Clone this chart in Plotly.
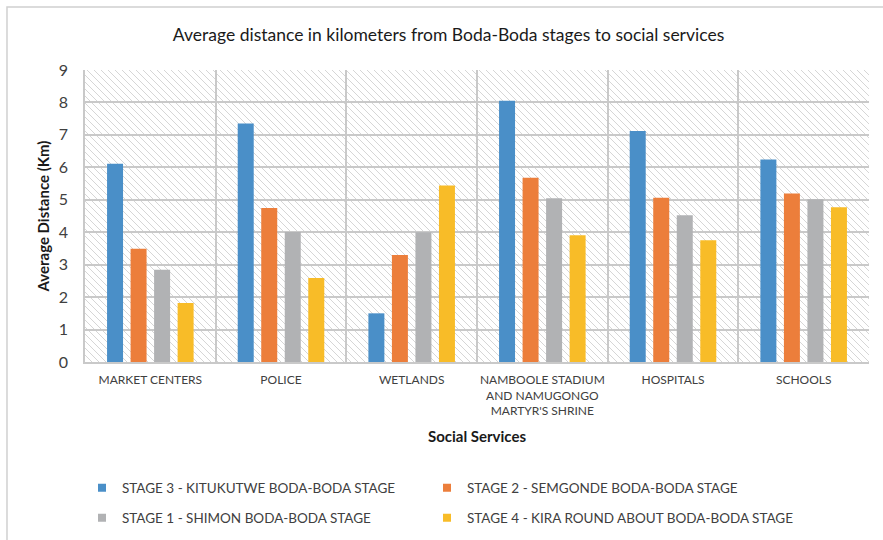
import plotly.graph_objects as go

# Social service categories (x axis)
services = [
    "MARKET CENTERS",
    "POLICE",
    "WETLANDS",
    "NAMBOOLE STADIUM<br>AND NAMUGONGO<br>MARTYR'S SHRINE",
    "HOSPITALS",
    "SCHOOLS",
]

# Average distance (km) from each Boda-Boda stage to the services
stage3_kitukutwe = [6.11, 7.35, 1.50, 8.05, 7.12, 6.24]
stage2_semgonde = [3.49, 4.75, 3.30, 5.68, 5.06, 5.19]
stage1_shimon = [2.84, 4.01, 4.00, 5.05, 4.52, 5.02]
stage4_kira = [1.82, 2.59, 5.44, 3.91, 3.75, 4.77]

series_names = [
    "STAGE 3 - KITUKUTWE BODA-BODA STAGE",
    "STAGE 2 - SEMGONDE BODA-BODA STAGE",
    "STAGE 1 - SHIMON BODA-BODA STAGE",
    "STAGE 4 - KIRA ROUND ABOUT BODA-BODA STAGE",
]
series_values = [stage3_kitukutwe, stage2_semgonde, stage1_shimon, stage4_kira]
series_colors = ["#4A8FC8", "#EC7E3B", "#B1B2B4", "#F8BC28"]
series_legend = ["legend", "legend2", "legend3", "legend4"]

y_ticks = list(range(0, 10))

FONT = "Lato, 'Open Sans', sans-serif"
TEXT = "#404040"
GRID = "#C9C9C9"

W, H = 883, 540
M_L, M_R, M_T, M_B = 85, 14, 70, 178
PW, PH = W - M_L - M_R, H - M_T - M_B

fig = go.Figure()

for name, vals, col in zip(series_names, series_values, series_colors):
    fig.add_trace(go.Bar(
        x=services, y=vals, name=name,
        marker=dict(color=col, line=dict(width=0)),
        showlegend=False,
    ))

# Legend entries with small square swatches, laid out as a 2x2 grid
for name, col, lg in zip(series_names, series_colors, series_legend):
    fig.add_trace(go.Scatter(
        x=[None], y=[None], mode="markers", name=name, legend=lg,
        marker=dict(symbol="square", size=8, color=col),
    ))

# Diagonal hatch filling the plotting area (drawn in pixel steps, expressed in paper units)
step = 7
segs = []
a = -PH
while a < PW:
    x0, y0 = a, 0.0
    if x0 < 0:
        y0 = -x0
        x0 = 0.0
    x1, y1 = a + PH, float(PH)
    if x1 > PW:
        y1 = PH - (x1 - PW)
        x1 = float(PW)
    if y1 > y0:
        segs.append("M{:.5f},{:.5f}L{:.5f},{:.5f}".format(
            x0 / PW, 1 - y0 / PH, x1 / PW, 1 - y1 / PH))
    a += step
fig.add_shape(type="path", path="".join(segs), xref="paper", yref="paper",
              line=dict(color="#D6D6D6", width=1), layer="below")

# Chart-area border (top and left edges)
bx = (7 - M_L) / PW
by = 1 + (M_T - 7) / PH
fig.add_shape(type="path",
              path="M{:.5f},{:.5f}L{:.5f},{:.5f}L{:.5f},{:.5f}".format(
                  bx, -M_B / PH - 0.01, bx, by, (W - M_L) / PW + 0.01, by),
              xref="paper", yref="paper",
              line=dict(color="#D0D0D0", width=1.5), layer="above")

legend_style = dict(
    orientation="h", xref="container", yref="container",
    xanchor="left", yanchor="middle", itemwidth=30,
    font=dict(size=13.5, color=TEXT), bgcolor="rgba(0,0,0,0)",
)
col_x = [82 / W, 427 / W]
row_y = [1 - 488 / H, 1 - 518 / H]

fig.update_layout(
    width=W, height=H,
    margin=dict(l=M_L, r=M_R, t=M_T, b=M_B),
    paper_bgcolor="white",
    plot_bgcolor="white",
    font=dict(family=FONT, color=TEXT),
    barmode="group",
    bargap=0.28,
    bargroupgap=0.32,
    title=dict(
        text="Average distance in kilometers from Boda-Boda stages to social services",
        x=0.508, xanchor="center", y=1 - 35 / H, yanchor="middle",
        font=dict(size=17.5, color="#1a1a1a", family=FONT),
    ),
    xaxis=dict(
        tickson="boundaries", tickangle=0,
        showgrid=True, gridcolor=GRID, gridwidth=1.5,
        showline=True, linecolor=GRID, linewidth=1.5,
        ticks="", ticklabelstandoff=6,
        tickfont=dict(size=12, color=TEXT),
        title=dict(text="<b>Social Services</b>", font=dict(size=15, color="#1a1a1a"),
                   standoff=14),
        automargin=False,
    ),
    yaxis=dict(
        range=[0, 9], tickvals=y_ticks,
        showgrid=True, gridcolor=GRID, gridwidth=1.5,
        showline=True, linecolor=GRID, linewidth=1.5,
        zeroline=False,
        ticks="outside", ticklen=12, tickcolor="rgba(0,0,0,0)",
        tickfont=dict(size=16, color=TEXT),
        title=dict(text="<b>Average Distance (Km)</b>", font=dict(size=15, color="#1a1a1a"),
                   standoff=6),
        automargin=False,
    ),
    legend=dict(legend_style, x=col_x[0], y=row_y[0]),
    legend2=dict(legend_style, x=col_x[1], y=row_y[0]),
    legend3=dict(legend_style, x=col_x[0], y=row_y[1]),
    legend4=dict(legend_style, x=col_x[1], y=row_y[1]),
)

fig.write_html("out.html")
